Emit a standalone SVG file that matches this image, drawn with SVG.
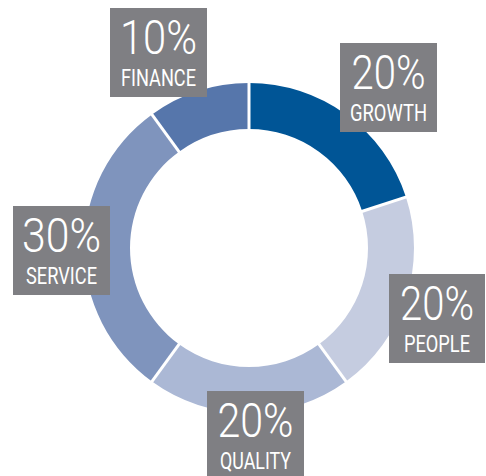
<svg xmlns="http://www.w3.org/2000/svg" width="486" height="476" viewBox="0 0 486 476">
<style>
.box{fill:#7f7f83}
.big{font-family:Roboto,"Liberation Sans",sans-serif;font-weight:300;font-size:48px;fill:#fff;text-anchor:middle}
.small{font-family:Roboto,"Liberation Sans",sans-serif;font-weight:400;font-size:23px;fill:#fff;text-anchor:middle}
.sep{stroke:#fff;stroke-width:3}
</style>
<rect width="486" height="476" fill="#fff"/>
<g id="ring">
<path id="seg-growth" fill="#005596" d="M249,83 A165,165 0 0 1 405.92,197.01 L362.18,211.23 A119,119 0 0 0 249,129 Z"/>
<path id="seg-people" fill="#c5cce0" d="M405.92,197.01 A165,165 0 0 1 345.99,381.49 L318.95,344.27 A119,119 0 0 0 362.18,211.23 Z"/>
<path id="seg-quality" fill="#abb8d5" d="M345.99,381.49 A165,165 0 0 1 152.01,381.49 L179.05,344.27 A119,119 0 0 0 318.95,344.27 Z"/>
<path id="seg-service" fill="#7f94bd" d="M152.01,381.49 A165,165 0 0 1 152.01,114.51 L179.05,151.73 A119,119 0 0 0 179.05,344.27 Z"/>
<path id="seg-finance" fill="#5676ab" d="M152.01,114.51 A165,165 0 0 1 249,83 L249,129 A119,119 0 0 0 179.05,151.73 Z"/>
</g>
<g id="separators">
<line class="sep" x1="249" y1="80" x2="249" y2="132"/>
<line class="sep" x1="408.8" y1="196.1" x2="359.3" y2="212.2"/>
<line class="sep" x1="347.8" y1="383.9" x2="317.2" y2="341.8"/>
<line class="sep" x1="150.2" y1="383.9" x2="180.8" y2="341.8"/>
<line class="sep" x1="150.2" y1="112.1" x2="180.8" y2="154.2"/>
</g>
<g id="finance">
<rect class="box" x="110" y="8" width="97" height="89"/>
<text class="big" x="158.5" y="54" textLength="77" lengthAdjust="spacingAndGlyphs">10%</text>
<text class="small" x="158.5" y="86" textLength="75" lengthAdjust="spacingAndGlyphs">FINANCE</text>
</g>
<g id="growth">
<rect class="box" x="340" y="43" width="97" height="89"/>
<text class="big" x="388.5" y="89" textLength="74" lengthAdjust="spacingAndGlyphs">20%</text>
<text class="small" x="388.5" y="121" textLength="77" lengthAdjust="spacingAndGlyphs">GROWTH</text>
</g>
<g id="service">
<rect class="box" x="13" y="206" width="97" height="89"/>
<text class="big" x="61.5" y="252" textLength="79" lengthAdjust="spacingAndGlyphs">30%</text>
<text class="small" x="61.5" y="284" textLength="71" lengthAdjust="spacingAndGlyphs">SERVICE</text>
</g>
<g id="people">
<rect class="box" x="389" y="274" width="96" height="89"/>
<text class="big" x="437" y="320" textLength="74" lengthAdjust="spacingAndGlyphs">20%</text>
<text class="small" x="437" y="352" textLength="66" lengthAdjust="spacingAndGlyphs">PEOPLE</text>
</g>
<g id="quality">
<rect class="box" x="207" y="391" width="97" height="89"/>
<text class="big" x="255.5" y="437" textLength="76" lengthAdjust="spacingAndGlyphs">20%</text>
<text class="small" x="255.5" y="469" textLength="71" lengthAdjust="spacingAndGlyphs">QUALITY</text>
</g>
</svg>
